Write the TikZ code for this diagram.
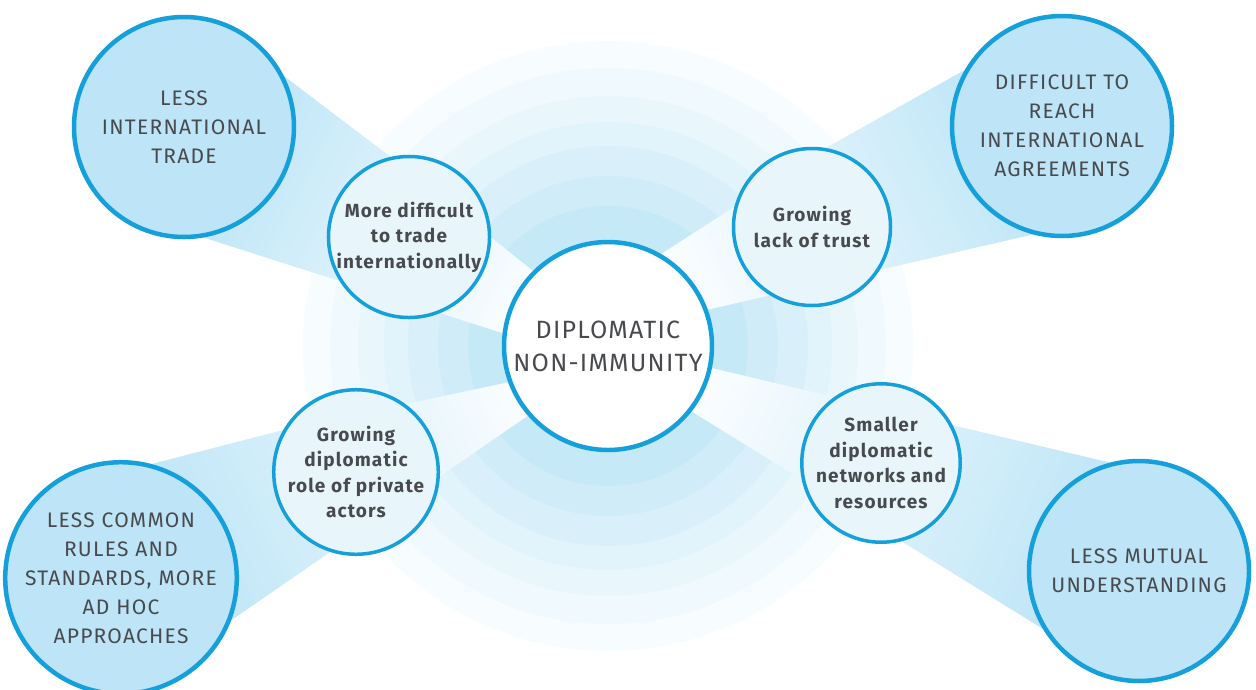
\documentclass[tikz,border=0pt]{standalone}
\usepackage{fontspec}
\setmainfont{Fira Sans}
\usetikzlibrary{calc,backgrounds}

\definecolor{rimblue}{RGB}{22,160,219}
\definecolor{paleblue}{RGB}{189,229,247}
\definecolor{mistblue}{RGB}{232,246,252}
\definecolor{inkgray}{RGB}{72,74,78}

\tikzset{
  hub/.style={circle, draw=rimblue, line width=4.5pt, fill=white,
    minimum size=208pt, inner sep=0pt, align=center, text=inkgray,
    font=\fontsize{25}{33}\selectfont\addfontfeature{LetterSpace=5}},
  cause/.style={circle, draw=rimblue, line width=3.5pt, fill=mistblue,
    minimum size=157pt, inner sep=0pt, align=center, text=inkgray,
    font=\fontsize{19}{25.5}\selectfont\bfseries\addfontfeature{LetterSpace=6}},
  effect/.style={circle, draw=rimblue, line width=4.5pt, fill=paleblue,
    minimum size=220pt, inner sep=0pt, align=center, text=inkgray,
    font=\fontsize{21}{29}\selectfont\addfontfeature{LetterSpace=6}},
  beam/.style={shade, top color=white, bottom color=paleblue, shading angle=#1},
}

\begin{document}
\begin{tikzpicture}[x=1pt,y=-1pt]
  \useasboundingbox (0,0) rectangle (1256,689);

  % centre
  \node[hub] (hub) at (608,346) {DIPLOMATIC\\NON-IMMUNITY};

  % first ring: causes
  \node[cause] (tradecause) at (409,237) {More difficult\\to trade\\internationally};
  \node[cause] (trustcause) at (812,227) {Growing\\lack of trust};
  \node[cause] (privatecause) at (356,472) {Growing\\diplomatic\\role of private\\actors};
  \node[cause] (networkcause) at (881,463) {Smaller\\diplomatic\\networks and\\resources};

  % outer ring: effects
  \node[effect] (tradeeffect) at (184,127) {LESS\\INTERNATIONAL\\TRADE};
  \node[effect] (agreeeffect) at (1062,126) {DIFFICULT TO\\REACH\\INTERNATIONAL\\AGREEMENTS};
  \node[effect] (ruleseffect) at (121,578) {LESS COMMON\\RULES AND\\STANDARDS, MORE\\AD HOC\\APPROACHES};
  \node[effect] (mutualeffect) at (1139,571) {LESS MUTUAL\\UNDERSTANDING};

  \begin{scope}[on background layer]
    \fill[white] (0,0) rectangle (1256,689);
    % rings round the centre
    \foreach \r/\s in {305/12, 278/22, 250/34, 224/46, 200/58, 170/72, 140/86}
      \fill[paleblue!\s!white] (hub.center) circle[radius=\r];
    % beams out to the effects
    \path[beam=243] (hub.center) -- (hub.135) -- (tradecause.103) -- (tradeeffect.27)
      -- (tradeeffect.center) -- (tradeeffect.-80) -- (hub.173) -- cycle;
    \path[beam=116] (hub.center) -- (hub.60) -- (trustcause.80) -- (agreeeffect.150)
      -- (agreeeffect.center) -- (agreeeffect.-105) -- (hub.20) -- cycle;
    \path[beam=295] (hub.center) -- (hub.200) -- (privatecause.150) -- (ruleseffect.75)
      -- (ruleseffect.center) -- (ruleseffect.-21) -- (hub.221) -- cycle;
    \path[beam=67] (hub.center) -- (hub.-12) -- (mutualeffect.105)
      -- (mutualeffect.center) -- (mutualeffect.211) -- (hub.-38) -- cycle;
  \end{scope}
\end{tikzpicture}
\end{document}
